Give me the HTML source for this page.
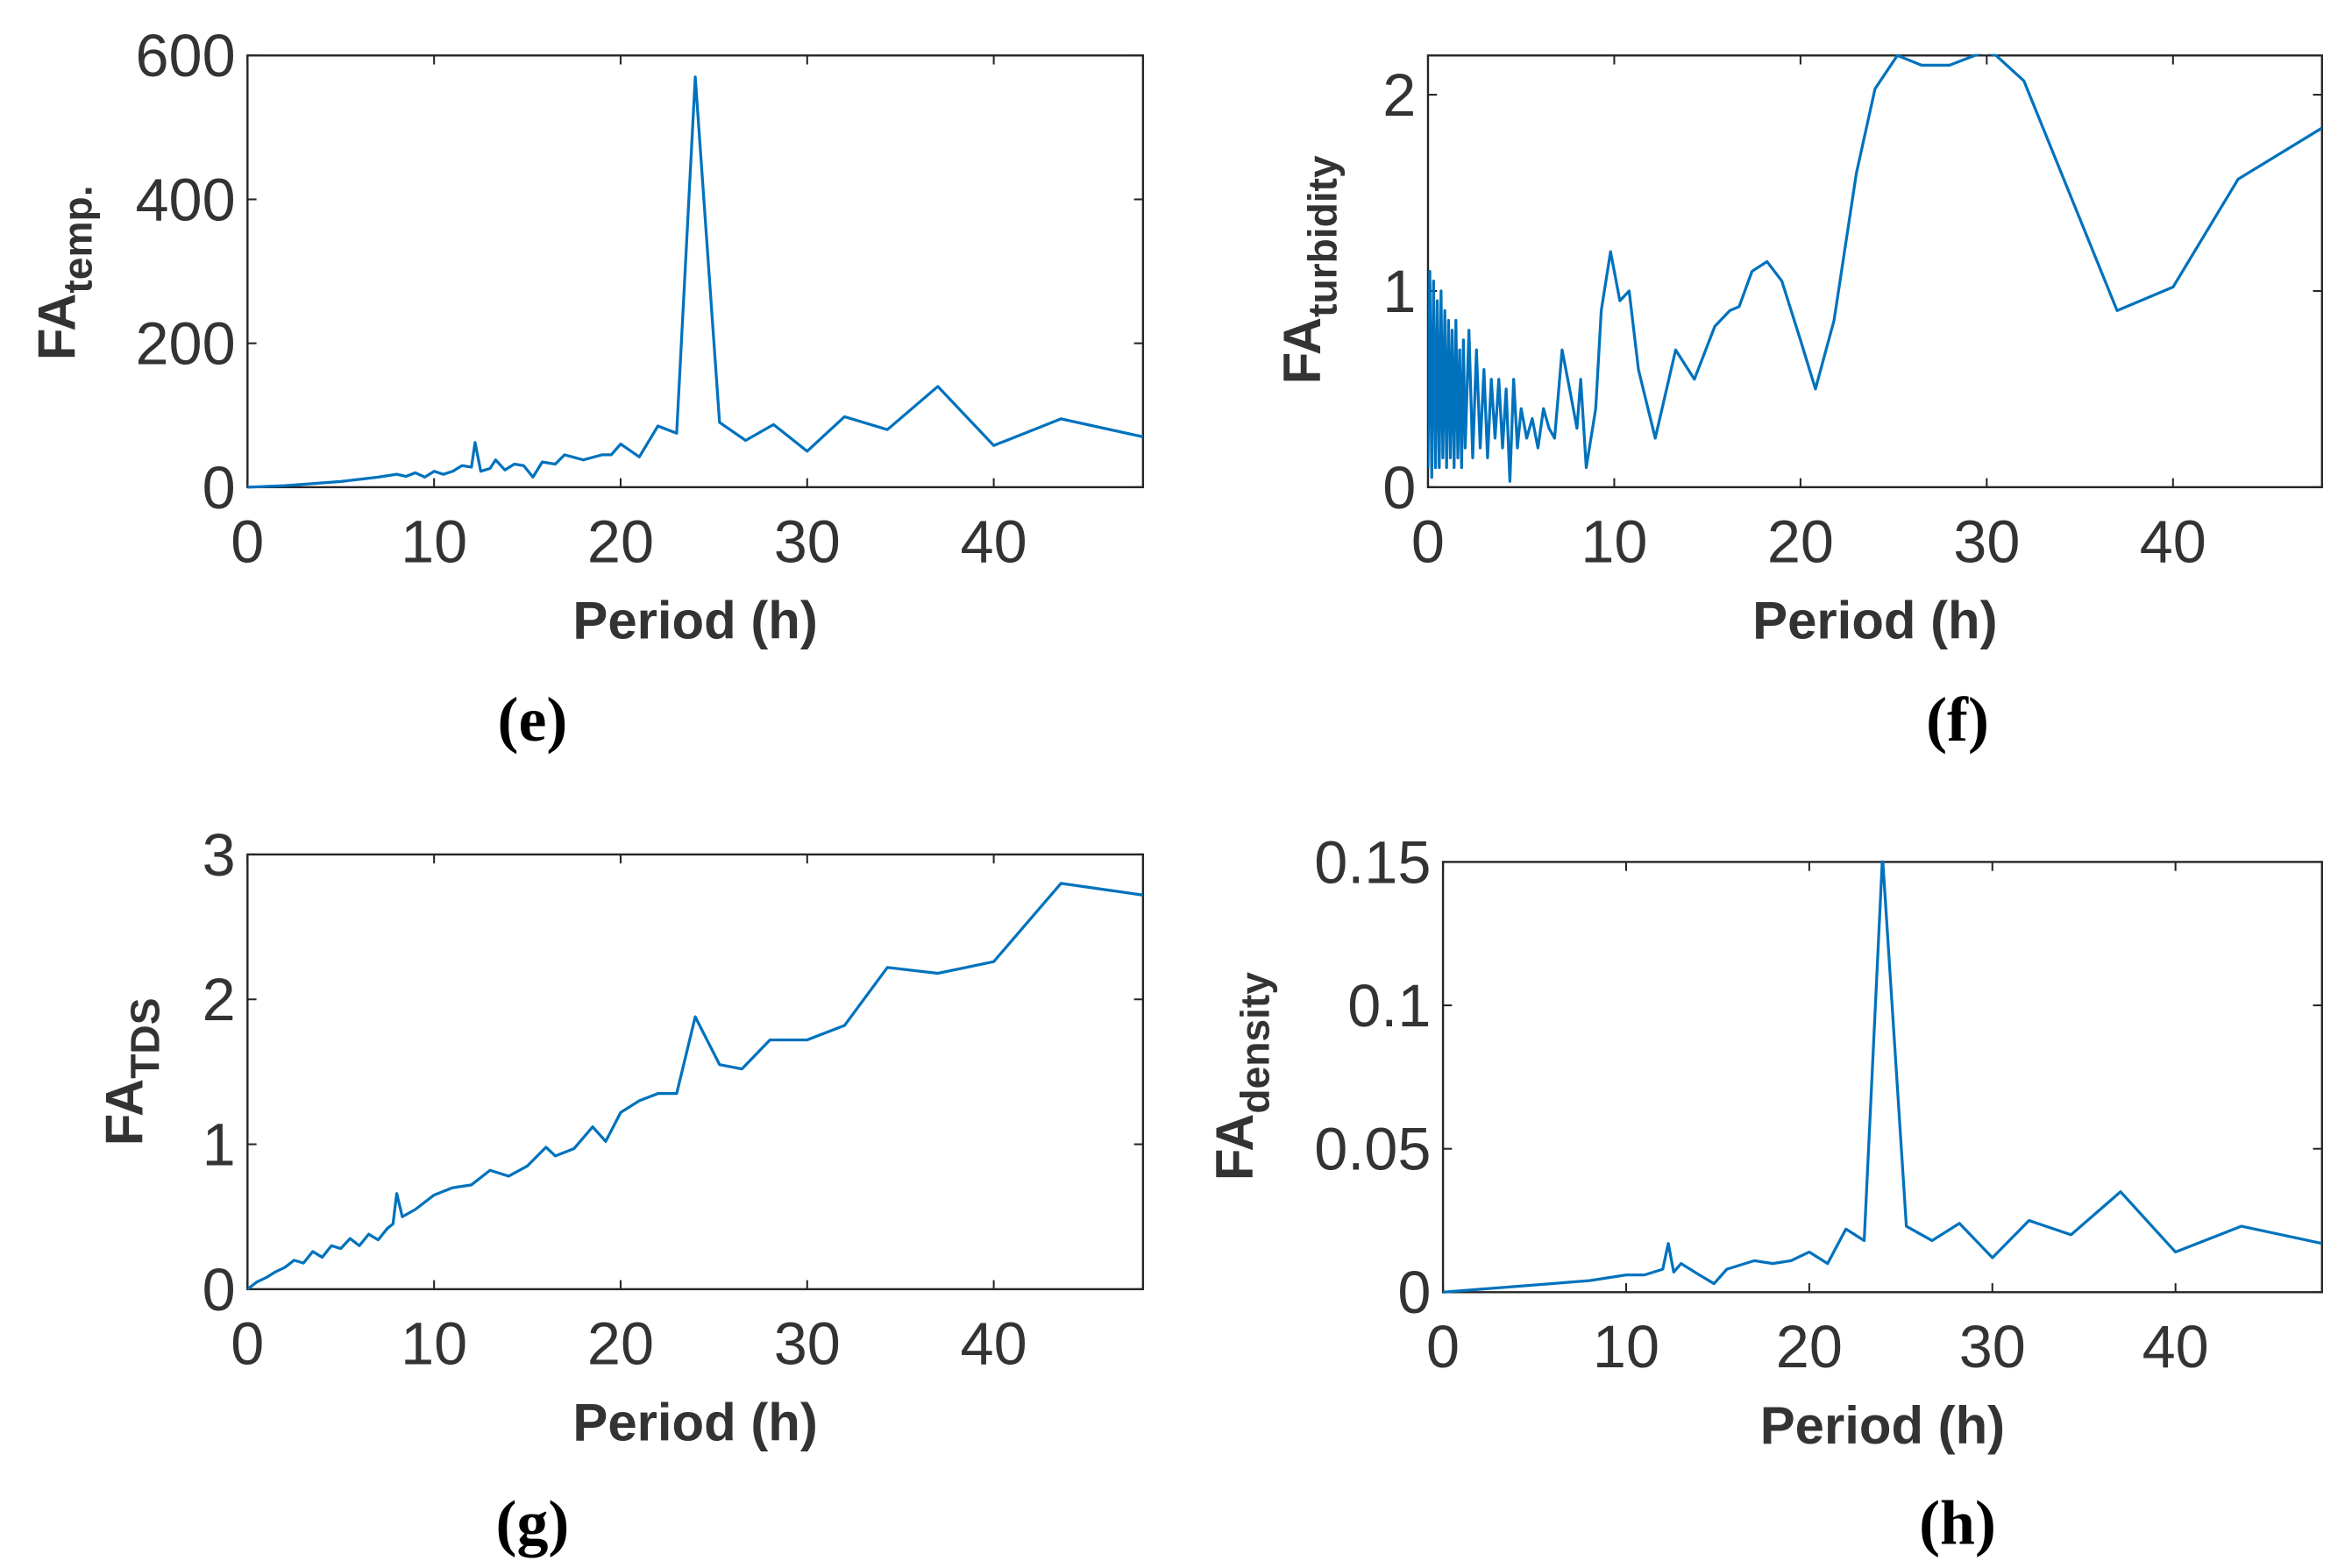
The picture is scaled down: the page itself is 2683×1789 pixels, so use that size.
<!DOCTYPE html>
<html><head><meta charset="utf-8"><style>
html,body{margin:0;padding:0;background:#fff;}
svg{display:block;}
text{font-family:"Liberation Sans Narrow","Liberation Sans",Arial,sans-serif;fill:#333;}
.cap{font-family:"Liberation Serif","DejaVu Serif",serif;fill:#000;font-weight:bold;}
.ttl{font-family:"Liberation Sans",Arial,sans-serif;fill:#333;}
</style></head><body>
<svg id="fig" width="2683" height="1789" viewBox="0 0 1568 1046" preserveAspectRatio="none" xmlns="http://www.w3.org/2000/svg"></svg>
<script>
// Panel e: FA temp
const eX=[0,2,5,7,8,8.5,9,9.5,10,10.5,11,11.5,12,12.2,12.5,13,13.3,13.8,14.3,14.8,15.3,15.8,16.5,17,18,19,19.5,20,21,22,23,24,25.3,26.7,28.2,30,32,34.3,37,40,43.6,48];
const eY=[0,2,8,14,18,15,20,14,22,18,22,30,28,62,22,26,38,24,32,30,14,35,32,45,38,45,45,60,42,85,75,570,90,65,87,50,98,80,140,58,95,70];
// Panel f: FA turbidity
const fX=[0,0.1,0.2,0.3,0.4,0.5,0.6,0.7,0.8,0.9,1.0,1.1,1.2,1.3,1.4,1.5,1.6,1.7,1.8,1.9,2.0,2.2,2.4,2.6,2.8,3.0,3.2,3.4,3.6,3.8,4.0,4.2,4.4,4.6,4.8,5.0,5.3,5.6,5.9,6.2,6.5,6.8,7.2,7.6,8,8.2,8.5,9,9.3,9.8,10.3,10.8,11.3,12.2,13.3,14.3,15.4,16.2,16.7,17.4,18.2,19,20,20.8,21.8,23,24,25.2,26.5,28,29.9,30.5,32,37,40,43.5,48];
const fY=[0.1,1.1,0.05,1.05,0.1,0.95,0.1,1.0,0.15,0.9,0.1,0.85,0.15,0.8,0.1,0.85,0.15,0.7,0.1,0.75,0.2,0.8,0.15,0.7,0.2,0.6,0.15,0.55,0.25,0.55,0.2,0.5,0.03,0.55,0.2,0.4,0.25,0.35,0.2,0.4,0.3,0.25,0.7,0.5,0.3,0.55,0.1,0.4,0.9,1.2,0.95,1.0,0.6,0.25,0.7,0.55,0.82,0.9,0.92,1.1,1.15,1.05,0.75,0.5,0.85,1.6,2.03,2.2,2.15,2.15,2.22,2.2,2.07,0.9,1.02,1.57,1.83];
// Panel g: FA TDS
const gX=[0,0.5,1,1.5,2,2.5,3,3.5,4,4.5,5,5.5,6,6.5,7,7.5,7.8,8,8.3,9,10,11,12,13,14,15,16,16.5,17.5,18.5,19.2,20,21,22,23,24,25.3,26.5,28,30,32,34.3,37,40,43.6,48];
const gY=[0,0.05,0.08,0.12,0.15,0.2,0.18,0.26,0.22,0.3,0.28,0.35,0.3,0.38,0.34,0.42,0.45,0.66,0.5,0.55,0.65,0.7,0.72,0.82,0.78,0.85,0.98,0.92,0.97,1.12,1.02,1.22,1.3,1.35,1.35,1.88,1.55,1.52,1.72,1.72,1.82,2.22,2.18,2.26,2.8,2.72];
// Panel h: FA density
const hX=[0,8,9,10,11,12,12.3,12.6,13,14,14.8,15.5,16.5,17,18,19,20,21,22,23,24,25.3,26.7,28.2,30,32,34.3,37,40,43.6,48];
const hY=[0,0.004,0.005,0.006,0.006,0.008,0.017,0.007,0.01,0.006,0.003,0.008,0.01,0.011,0.01,0.011,0.014,0.01,0.022,0.018,0.152,0.023,0.018,0.024,0.012,0.025,0.02,0.035,0.014,0.023,0.017];
const xTicks=[0,10,20,30,40];
const eTicks=[0,200,400,600], fTicks=[0,1,2], gTicks=[0,1,2,3], hTicks=[0,0.05,0.1,0.15];
const eLab=["0","200","400","600"], fLab=["0","1","2"], gLab=["0","1","2","3"], hLab=["0","0.05","0.1","0.15"];

const NS="http://www.w3.org/2000/svg";
const svg=document.getElementById('fig');
function mk(tag,attrs,parent){const el=document.createElementNS(NS,tag);for(const k in attrs)el.setAttribute(k,attrs[k]);(parent||svg).appendChild(el);return el;}

function panel(id,box,ymax,X,Y,yt,yl,sub,ylPos,cap,capPos){
  const g=mk('g',{});
  
  
  const [L,T,R,B]=box;
  const sx=v=>L+(v/48)*(R-L);
  const sy=v=>B-(v/ymax)*(B-T);
  const rect=mk('rect',{x:L,y:T,width:R-L,height:B-T,fill:'none',stroke:'#262626','stroke-width':1.4},g);
  
  
  xTicks.forEach(t=>{
    const x=sx(t);
    mk('line',{x1:x,y1:B,x2:x,y2:B-6,stroke:'#262626','stroke-width':1.2},g);
    mk('line',{x1:x,y1:T,x2:x,y2:T+6,stroke:'#262626','stroke-width':1.2},g);
    const tx=mk('text',{x:x,y:B+50,'font-size':40,'text-anchor':'middle'},g);
    tx.textContent=t;
    
    
  });
  yt.forEach((t,i)=>{
    const y=sy(t);
    mk('line',{x1:L,y1:y,x2:L+6,y2:y,stroke:'#262626','stroke-width':1.2},g);
    mk('line',{x1:R,y1:y,x2:R-6,y2:y,stroke:'#262626','stroke-width':1.2},g);
    const tx=mk('text',{x:L-8,y:y+14,'font-size':40,'text-anchor':'end'},g);
    tx.textContent=yl[i];
    
    
  });
  const pts=X.map((x,i)=>sx(x).toFixed(1)+','+sy(Y[i]).toFixed(1)).join(' ');
  const cp=mk('clipPath',{id:'c'+id},g);
  mk('rect',{x:L,y:T-1,width:R-L,height:B-T+2},cp);
  const pl=mk('polyline',{points:pts,fill:'none',stroke:'#0072BD','stroke-width':1.9,'stroke-linejoin':'round','clip-path':'url(#c'+id+')'},g);
  
  
  const xl=mk('text',{x:(L+R)/2,y:B+101,'font-size':35,'font-weight':'bold','text-anchor':'middle',class:'ttl'},g);
  xl.textContent='Period (h)';
  
  
  const yl2=mk('text',{x:0,y:0,'font-size':35,'font-weight':'bold','text-anchor':'middle',class:'ttl',transform:'translate('+ylPos[0]+','+ylPos[1]+') rotate(-90)'},g);
  
  
  const a=mk('tspan',{},yl2);a.textContent='FA';
  const s=mk('tspan',{'font-size':27,dy:11},yl2);s.textContent=sub;
  const c=mk('text',{x:capPos[0],y:capPos[1],'font-size':42,'text-anchor':'middle',class:'cap'},g);
  c.textContent=cap;
  
  
}
panel('e',[165,37,762,325],600,eX,eY,eTicks,eLab,'temp.',[50,182],'(e)',[355,494]);
panel('f',[952,37,1548,325],2.2,fX,fY,fTicks,fLab,'turbidity',[880,180],'(f)',[1305,494]);
panel('g',[165,570,762,860],3,gX,gY,gTicks,gLab,'TDS',[95,715],'(g)',[355,1030]);
panel('h',[962,575,1548,862],0.15,hX,hY,hTicks,hLab,'density',[835,718],'(h)',[1305,1030]);
</script>
</body></html>
